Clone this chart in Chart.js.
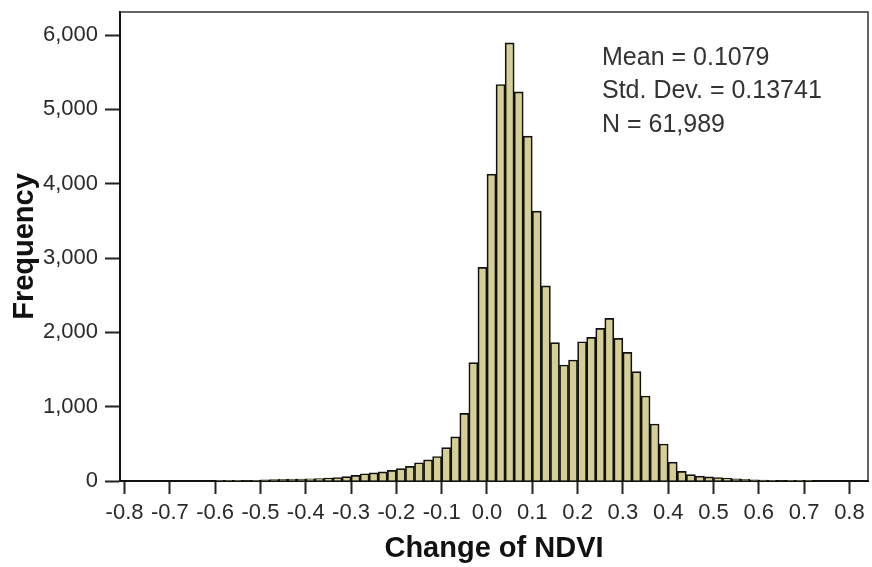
<!DOCTYPE html>
<html>
<head>
<meta charset="utf-8">
<title>Change of NDVI</title>
<script src="https://cdn.jsdelivr.net/npm/chart.js@4.4.1/dist/chart.umd.min.js"></script>
<style>
  html,body{margin:0;padding:0;background:#fff;}
  #wrap{width:872px;height:567px;}
</style>
</head>
<body>
<div id="wrap"><canvas id="hist" width="872" height="567"></canvas></div>
<script>
// bin centres (bin width 0.02)
const binCenters = [
  -0.79,-0.77,-0.75,-0.73,-0.71,-0.69,-0.67,-0.65,-0.63,-0.61,
  -0.59,-0.57,-0.55,-0.53,-0.51,-0.49,-0.47,-0.45,-0.43,-0.41,
  -0.39,-0.37,-0.35,-0.33,-0.31,-0.29,-0.27,-0.25,-0.23,-0.21,
  -0.19,-0.17,-0.15,-0.13,-0.11,-0.09,-0.07,-0.05,-0.03,-0.01,
   0.01, 0.03, 0.05, 0.07, 0.09, 0.11, 0.13, 0.15, 0.17, 0.19,
   0.21, 0.23, 0.25, 0.27, 0.29, 0.31, 0.33, 0.35, 0.37, 0.39,
   0.41, 0.43, 0.45, 0.47, 0.49, 0.51, 0.53, 0.55, 0.57, 0.59,
   0.61, 0.63, 0.65, 0.67, 0.69, 0.71, 0.73, 0.75, 0.77, 0.79,
   0.81, 0.83
];
const frequency = [
  0,0,0,0,0,0,0,0,0,0,
  2,3,5,7,10,15,20,22,25,27,
  30,33,38,46,60,76,98,110,122,143,
  166,197,246,285,330,448,595,910,1592,2875,
  4130,5335,5895,5235,4640,3632,2625,1862,1561,1628,
  1874,1933,2054,2189,1920,1731,1471,1144,767,498,
  255,130,85,65,55,45,35,28,22,16,
  12,9,7,5,3,2,0,0,0,0,
  0,0
];
const xTicks = [-0.8,-0.7,-0.6,-0.5,-0.4,-0.3,-0.2,-0.1,0,0.1,0.2,0.3,0.4,0.5,0.6,0.7,0.8];
const yTicks = [0,1000,2000,3000,4000,5000,6000];
const statsLines = ["Mean = 0.1079","Std. Dev. = 0.13741","N = 61,989"];

const FONT = "'Liberation Sans', Arial, sans-serif";

// top/right frame + statistics text
const framePlugin = {
  id: "frame",
  afterDraw(chart){
    const {ctx, chartArea:a} = chart;
    ctx.save();
    ctx.strokeStyle = "#333"; ctx.lineWidth = 1.5;
    ctx.beginPath();
    ctx.moveTo(a.left, a.top); ctx.lineTo(a.right, a.top); ctx.lineTo(a.right, a.bottom);
    ctx.stroke();
    ctx.fillStyle = "#333";
    ctx.font = "25px " + FONT;
    ctx.textBaseline = "middle";
    statsLines.forEach((t,i)=> ctx.fillText(t, a.left + 482, a.top + 46 + i*33.5));
    ctx.restore();
  }
};

const noPad = s => { s.paddingTop = 0; s.paddingBottom = 0; s.paddingLeft = 0; s.paddingRight = 0; };

new Chart(document.getElementById("hist"),{
  type:"bar",
  data:{datasets:[{
    data: binCenters.map((x,i)=>({x:x, y:frequency[i]})),
    backgroundColor:"#d5cf96", borderColor:"#111", borderWidth:1.7,
    barPercentage:1, categoryPercentage:1
  }]},
  options:{
    responsive:false, animation:false,
    layout:{padding:{top:12,right:4,left:0,bottom:0}},
    plugins:{legend:{display:false}, tooltip:{enabled:false}},
    scales:{
      x:{type:"linear", min:-0.81, max:0.841, offset:false,
        afterFit:s=>{ s.height = 86; noPad(s); },
        afterBuildTicks:s=>{ s.ticks = xTicks.map(v=>({value:v})); },
        grid:{offset:false, drawOnChartArea:false, drawTicks:true, tickLength:13, tickWidth:2, tickColor:"#222"},
        border:{display:true, color:"#111", width:2},
        ticks:{autoSkip:false, maxRotation:0, padding:6, color:"#2a2a2a",
          font:{family:FONT, size:22}, callback:v=>v.toFixed(1)},
        title:{display:true, text:"Change of NDVI", color:"#111",
          font:{family:FONT, size:29, weight:"bold"}, padding:{top:0,bottom:1}}
      },
      y:{min:0, max:6310,
        afterFit:s=>{ s.width = 120; noPad(s); },
        afterBuildTicks:s=>{ s.ticks = yTicks.map(v=>({value:v})); },
        grid:{drawOnChartArea:false, drawTicks:true, tickLength:15, tickWidth:2, tickColor:"#222"},
        border:{display:true, color:"#111", width:2},
        ticks:{padding:7, color:"#2a2a2a", font:{family:FONT, size:22},
          callback:v=>v.toLocaleString("en-US")},
        title:{display:true, text:"Frequency", color:"#111",
          font:{family:FONT, size:29, weight:"bold"}, padding:{top:8,bottom:0}}
      }
    }
  },
  plugins:[framePlugin]
});
</script>
</body>
</html>
